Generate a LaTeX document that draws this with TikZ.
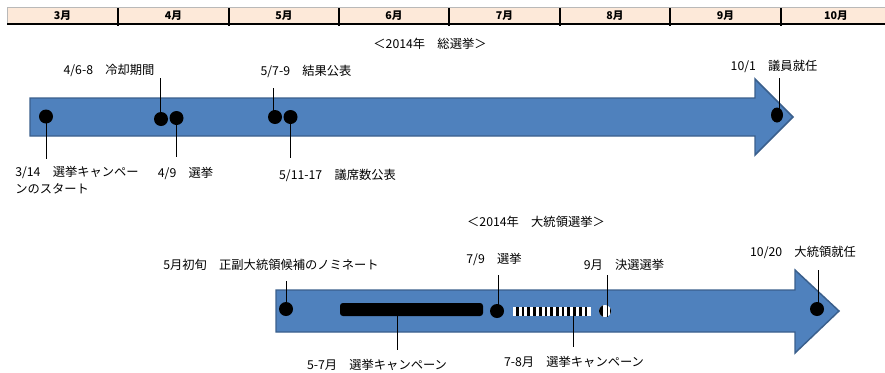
\documentclass[tikz,border=0pt]{standalone}
\usepackage{fontspec}
\newfontfamily\jp{Noto Sans CJK JP}
\usetikzlibrary{shapes.geometric}
\definecolor{arrowblue}{HTML}{4F81BD}
\definecolor{arrowedge}{HTML}{3A5F8C}
\definecolor{headfill}{HTML}{FDE9D9}
\begin{document}
\begin{tikzpicture}[x=0.75pt,y=-0.75pt,
  lbl/.style={font=\jp\fontsize{9.2}{12.75}\selectfont, inner sep=0pt},
  mon/.style={font=\jp\bfseries\fontsize{8}{9}\selectfont, inner sep=0pt},
  dot/.style={circle, fill=black, minimum size=10.5pt, inner sep=0pt},
  lead/.style={draw=black, line width=0.6pt},
  arr/.style={fill=arrowblue, draw=arrowedge, line width=1.1pt, line join=miter},
  sep/.style={draw=black, line width=0.8pt}]
\useasboundingbox (0,0) rectangle (885,372);

% ---------- month header ----------
\fill[headfill] (7,7.5) rectangle (885,24);
\draw[gray!55, line width=0.6pt] (7,24) -- (7,7.5) -- (885,7.5);
\draw[sep] (7,24) -- (885,24);
\foreach \x in {118,229,339,449,560,670,781}{
  \draw[sep] (\x,8) -- (\x,25.5);
}
\node[mon] (m3) at (62.5,16) {3月};
\node[mon] (m4) at (173.5,16) {4月};
\node[mon] (m5) at (284,16) {5月};
\node[mon] (m6) at (394,16) {6月};
\node[mon] (m7) at (504.5,16) {7月};
\node[mon] (m8) at (615,16) {8月};
\node[mon] (m9) at (725.5,16) {9月};
\node[mon] (m10) at (836,16) {10月};

% ---------- general election ----------
\node[lbl] (t1) at (430,44) {＜2014年　総選挙＞};
\draw[arr] (30,98) -- (755,98) -- (755,79) -- (793,117) -- (755,155) -- (755,136) -- (30,136) -- cycle;

\node[dot] (d1) at (46,116.5) {};
\node[dot] (d2) at (161,119) {};
\node[dot] (d3) at (176.5,118) {};
\node[dot] (d4) at (275,117) {};
\node[dot] (d5) at (290.5,117) {};
\node[ellipse, fill=black, minimum width=9pt, minimum height=11.25pt, inner sep=0pt] (d6) at (777,115) {};

\coordinate (c1) at (46,159);
\coordinate (c2) at (160,78);
\coordinate (c3) at (176.5,157);
\coordinate (c4) at (273,88);
\coordinate (c5) at (290.5,158);
\coordinate (c6) at (779,78);
\draw[lead] (d1.center) -- (c1);
\draw[lead] (c2) -- (c2 |- d2.center);
\draw[lead] (d3.center) -- (c3);
\draw[lead] (c4) -- (c4 |- d4.center);
\draw[lead] (d5.center) -- (c5);
\draw[lead] (c6) -- (c6 |- d6.center);

\node[lbl, anchor=north west, align=left] (l1) at (15,166) {3/14　選挙キャンペー\\ンのスタート};
\node[lbl] (l2) at (109,70) {4/6-8　冷却期間};
\node[lbl] (l3) at (185.5,173) {4/9　選挙};
\node[lbl] (l4) at (306,71) {5/7-9　結果公表};
\node[lbl] (l5) at (337.5,175) {5/11-17　議席数公表};
\node[lbl] (l6) at (774,66) {10/1　議員就任};

% ---------- presidential election ----------
\node[lbl] (t2) at (536,222) {＜2014年　大統領選挙＞};
\draw[arr] (276,290) -- (795,290) -- (795,270) -- (839,311) -- (795,353) -- (795,332) -- (276,332) -- cycle;

\node[dot] (e1) at (286,309) {};
\node[fill=black, rounded corners=2.2pt, minimum width=107.25pt, minimum height=9.75pt, inner sep=0pt] (bar1) at (411.5,309.5) {};
\node[dot] (e2) at (497,311) {};
\node[fill=white, minimum width=58.5pt, minimum height=6.75pt, inner sep=0pt] (bar2) at (552,311.5) {};
\foreach \i in {0,...,12}{
  \fill[black] ({516+\i*5.72},307) rectangle ({518.7+\i*5.72},316);
}
\node[circle, fill=white, minimum size=9pt, inner sep=0pt] (e3) at (605,311) {};
\begin{scope}
  \clip (605,311) circle (6);
  \fill[black] (598,304) rectangle (602.8,318);
  \fill[black] (609.6,304) rectangle (612,318);
\end{scope}
\node[dot] (e4) at (817,309) {};

\coordinate (f1) at (286,281);
\coordinate (f2) at (397,350);
\coordinate (f3) at (498,275);
\coordinate (f4) at (573,347);
\coordinate (f5) at (607,275);
\coordinate (f6) at (818,270);
\draw[lead] (f1) -- (f1 |- e1.center);
\draw[lead] (f2 |- bar1.south) -- (f2);
\draw[lead] (f3) -- (f3 |- e2.center);
\draw[lead] (f4 |- bar2.south) -- (f4);
\draw[lead] (f5) -- (f5 |- e3.south);
\draw[lead] (f6) -- (f6 |- e4.center);

\node[lbl] (k1) at (271,265) {5月初旬　正副大統領候補のノミネート};
\node[lbl] (k2) at (494,259) {7/9　選挙};
\node[lbl] (k3) at (624,265) {9月　決選選挙};
\node[lbl] (k4) at (803,252) {10/20　大統領就任};
\node[lbl] (k5) at (377,365) {5-7月　選挙キャンペーン};
\node[lbl] (k6) at (574,362) {7-8月　選挙キャンペーン};
\end{tikzpicture}
\end{document}
